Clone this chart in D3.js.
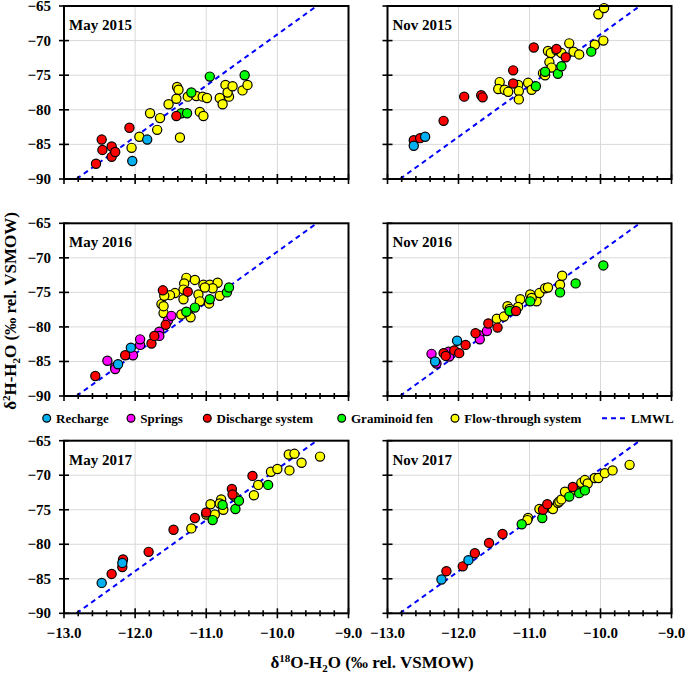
<!DOCTYPE html>
<html><head><meta charset="utf-8">
<script src="https://cdn.jsdelivr.net/npm/d3@7"></script>
<style>body{margin:0;background:#fff}svg{display:block}text{font-family:"Liberation Serif","Times New Roman",serif;font-weight:bold;fill:#000}</style>
</head><body>
<script>
// ---- data (δ18O, δ2H) ----
const panelTitles = ["May 2015","Nov 2015","May 2016","Nov 2016","May 2017","Nov 2017"];
const groupNames = ["Recharge","Springs","Discharge system","Graminoid fen","Flow-through system"];
const groupColors = ["#00b0f0","#ff00ff","#ff0000","#00ff00","#ffff00"];
const xTickLabels = [-13,-12,-11,-10,-9];
const yTickLabels = [-90,-85,-80,-75,-70,-65];
const lmwlSlope = 7.4, lmwlIntercept = 4.9;

const may2015_recharge = [[-12.04,-87.4],[-11.83,-84.3]];
const may2015_springs = [];
const may2015_discharge = [[-12.55,-87.8],[-12.47,-84.3],[-12.46,-85.8],[-12.33,-85.3],[-12.33,-86.8],[-12.28,-86.1],[-12.08,-82.6],[-11.42,-80.9]];
const may2015_fen = [[-11.35,-80.5],[-11.27,-80.5],[-11.21,-77.5],[-10.95,-75.2],[-10.46,-75.0]];
const may2015_flow = [[-12.05,-85.5],[-11.94,-83.9],[-11.79,-80.5],[-11.69,-82.9],[-11.65,-81.2],[-11.53,-79.2],[-11.42,-78.4],[-11.41,-76.7],[-11.39,-77.1],[-11.37,-84.0],[-11.26,-78.1],[-11.14,-78.0],[-11.09,-80.3],[-11.04,-80.9],[-11.05,-78.1],[-10.99,-78.3],[-10.81,-78.3],[-10.77,-79.2],[-10.73,-76.4],[-10.68,-78.1],[-10.70,-77.5],[-10.63,-76.6],[-10.49,-77.2],[-10.42,-76.4]];

const nov2015_recharge = [[-12.63,-85.2],[-12.47,-83.9]];
const nov2015_springs = [];
const nov2015_discharge = [[-12.63,-84.4],[-12.54,-84.1],[-12.21,-81.6],[-11.92,-78.1],[-11.68,-77.9],[-11.66,-78.2],[-11.23,-74.3],[-11.23,-76.2],[-10.94,-71.0],[-10.62,-71.2],[-10.49,-72.4]];
const nov2015_fen = [[-10.91,-76.6],[-10.78,-74.5],[-10.60,-74.8],[-10.55,-73.7],[-10.13,-71.6]];
const nov2015_flow = [[-11.42,-76.0],[-11.44,-77.0],[-11.35,-77.1],[-11.30,-77.4],[-11.16,-76.4],[-11.15,-77.3],[-11.15,-78.5],[-11.02,-76.1],[-10.97,-77.1],[-10.81,-74.7],[-10.78,-75.0],[-10.74,-71.5],[-10.70,-71.8],[-10.72,-73.1],[-10.69,-73.9],[-10.62,-71.4],[-10.55,-71.8],[-10.44,-70.4],[-10.38,-71.6],[-10.30,-72.0],[-10.08,-70.6],[-9.96,-70.0],[-10.03,-66.2],[-9.95,-65.3]];

const may2016_recharge = [[-12.06,-83.0],[-12.24,-85.4]];
const may2016_springs = [[-12.39,-84.9],[-12.28,-85.8],[-12.28,-86.1],[-12.03,-84.1],[-11.93,-82.6],[-11.93,-81.8],[-11.66,-80.7],[-11.66,-81.3],[-11.54,-79.1],[-11.49,-78.4]];
const may2016_discharge = [[-12.56,-87.1],[-12.14,-84.1],[-11.77,-82.4],[-11.73,-81.3],[-11.57,-79.7],[-11.61,-74.7],[-11.26,-74.9]];
const may2016_fen = [[-11.28,-77.8],[-11.16,-77.2],[-10.95,-76.0],[-10.71,-75.0],[-10.68,-74.3]];
const may2016_flow = [[-11.28,-72.9],[-11.16,-73.2],[-11.31,-73.7],[-11.32,-74.6],[-11.44,-75.1],[-11.51,-75.4],[-11.63,-76.7],[-11.60,-78.0],[-11.60,-77.0],[-11.59,-75.5],[-11.32,-76.0],[-11.11,-75.3],[-11.09,-76.3],[-11.04,-73.9],[-10.95,-73.9],[-10.84,-73.6],[-10.81,-75.5],[-11.26,-78.0],[-11.35,-78.2],[-11.22,-78.6],[-10.96,-76.6],[-10.91,-74.4],[-11.02,-74.3]];

const nov2016_recharge = [[-12.33,-85.0],[-12.02,-82.0]];
const nov2016_springs = [[-12.38,-83.9],[-12.31,-85.3],[-12.14,-83.6],[-12.13,-84.3],[-11.71,-81.2],[-11.70,-81.8],[-11.60,-80.6]];
const nov2016_discharge = [[-12.21,-83.8],[-12.18,-84.2],[-12.06,-83.4],[-11.99,-83.8],[-11.90,-82.6],[-11.76,-80.9],[-11.58,-79.5],[-11.45,-80.1],[-11.19,-77.7]];
const nov2016_fen = [[-11.28,-77.7],[-10.99,-76.3],[-10.57,-75.0],[-10.35,-73.7],[-9.96,-71.1]];
const nov2016_flow = [[-11.46,-78.8],[-11.36,-78.5],[-11.31,-77.0],[-11.28,-77.4],[-11.13,-76.0],[-11.16,-77.1],[-10.99,-75.3],[-10.90,-76.3],[-10.86,-75.1],[-10.78,-74.4],[-10.74,-74.3],[-10.57,-73.9],[-10.54,-72.6],[-10.97,-75.8]];

const may2017_recharge = [[-12.47,-85.6],[-12.18,-82.7]];
const may2017_springs = [];
const may2017_discharge = [[-12.33,-84.3],[-12.18,-83.3],[-12.17,-82.2],[-11.81,-81.1],[-11.46,-77.9],[-11.16,-76.2],[-11.00,-75.4],[-10.64,-72.0],[-10.63,-72.8],[-10.35,-70.1]];
const may2017_fen = [[-10.91,-76.5],[-10.77,-74.3],[-10.59,-74.9],[-10.54,-73.7],[-10.13,-71.4]];
const may2017_flow = [[-11.21,-77.7],[-11.00,-75.7],[-10.94,-74.2],[-10.88,-75.7],[-10.79,-73.5],[-10.81,-74.1],[-10.76,-75.0],[-10.60,-73.1],[-10.33,-72.9],[-10.27,-71.4],[-10.09,-69.5],[-10.00,-69.1],[-9.83,-69.3],[-9.84,-67.0],[-9.76,-66.9],[-9.66,-68.2],[-9.40,-67.3]];

const nov2017_recharge = [[-12.24,-85.1],[-11.86,-82.3]];
const nov2017_springs = [];
const nov2017_discharge = [[-12.17,-83.9],[-11.94,-83.2],[-11.77,-81.3],[-11.57,-79.8],[-11.38,-78.5],[-10.81,-75.0],[-10.75,-74.2],[-10.39,-71.7]];
const nov2017_fen = [[-11.11,-77.1],[-10.82,-76.2],[-10.44,-73.1],[-10.30,-72.6],[-10.22,-72.2]];
const nov2017_flow = [[-11.02,-76.2],[-11.03,-76.5],[-10.86,-74.9],[-10.71,-74.7],[-10.67,-74.9],[-10.60,-74.0],[-10.58,-73.8],[-10.55,-73.5],[-10.50,-72.4],[-10.36,-72.1],[-10.27,-71.1],[-10.22,-70.7],[-10.18,-71.2],[-10.08,-70.4],[-10.03,-70.4],[-9.94,-69.7],[-9.83,-69.3],[-9.59,-68.5]];

const panelSeries = [
  [may2015_recharge,may2015_springs,may2015_discharge,may2015_fen,may2015_flow],
  [nov2015_recharge,nov2015_springs,nov2015_discharge,nov2015_fen,nov2015_flow],
  [may2016_recharge,may2016_springs,may2016_discharge,may2016_fen,may2016_flow],
  [nov2016_recharge,nov2016_springs,nov2016_discharge,nov2016_fen,nov2016_flow],
  [may2017_recharge,may2017_springs,may2017_discharge,may2017_fen,may2017_flow],
  [nov2017_recharge,nov2017_springs,nov2017_discharge,nov2017_fen,nov2017_flow]
];

// ---- layout ----
const W = 685, H = 675;
const cols = [[64,348.5],[387.5,671.5]];
const rows = [[6,179],[223.3,396],[440.7,613.3]];
const drawOrder = [4,3,1,2,0];

const svg = d3.select("body").append("svg").attr("width",W).attr("height",H);
const fmtX = d3.format(".1f");
const fmtY = d3.format("d");

panelTitles.forEach((title,i)=>{
  const c = cols[i%2], r = rows[Math.floor(i/2)];
  const x = d3.scaleLinear().domain([-13,-9]).range(c);
  const y = d3.scaleLinear().domain([-90,-65]).range([r[1],r[0]]);
  const g = svg.append("g");
  // gridlines
  g.selectAll(".gx").data(xTickLabels.slice(1,-1)).join("line")
    .attr("x1",d=>x(d)).attr("x2",d=>x(d)).attr("y1",r[0]).attr("y2",r[1])
    .attr("stroke","#d9d9d9").attr("stroke-width",1);
  g.selectAll(".gy").data(yTickLabels.slice(1,-1)).join("line")
    .attr("y1",d=>y(d)).attr("y2",d=>y(d)).attr("x1",c[0]).attr("x2",c[1])
    .attr("stroke","#d9d9d9").attr("stroke-width",1);
  // LMWL
  const lx0 = (-90-lmwlIntercept)/lmwlSlope, lx1 = (-65-lmwlIntercept)/lmwlSlope;
  g.append("line").attr("x1",x(lx0)).attr("y1",y(-90)).attr("x2",x(lx1)).attr("y2",y(-65))
    .attr("stroke","#0000ff").attr("stroke-width",2).attr("stroke-dasharray","5,4");
  // points
  drawOrder.forEach(k=>{
    g.selectAll(null).data(panelSeries[i][k]).join("circle")
      .attr("cx",d=>x(d[0])).attr("cy",d=>y(d[1])).attr("r",4.6)
      .attr("fill",groupColors[k]).attr("stroke","#000").attr("stroke-width",1.2);
  });
  // frame
  g.append("rect").attr("x",c[0]).attr("y",r[0]).attr("width",c[1]-c[0]).attr("height",r[1]-r[0])
    .attr("fill","none").attr("stroke","#000").attr("stroke-width",2);
  // x ticks (crossing)
  const minor = d3.range(0,21).map(j=>-13+j*0.2);
  g.selectAll(".tx").data(minor).join("line")
    .attr("x1",d=>x(d)).attr("x2",d=>x(d))
    .attr("y1",(d,j)=>r[1]-(j%5===0?5:3)).attr("y2",(d,j)=>r[1]+(j%5===0?5:3))
    .attr("stroke","#000").attr("stroke-width",1.6);
  // y ticks
  g.selectAll(".ty").data(yTickLabels).join("line")
    .attr("y1",d=>y(d)).attr("y2",d=>y(d)).attr("x1",c[0]-5).attr("x2",c[0]+5)
    .attr("stroke","#000").attr("stroke-width",1.6);
  // labels
  if (i%2===0){
    g.selectAll(".ly").data(yTickLabels).join("text")
      .attr("x",c[0]-13).attr("y",d=>y(d)+5).attr("text-anchor","end")
      .attr("font-size",15).text(d=>fmtY(d));
  }
  if (i>=4){
    g.selectAll(".lx").data(xTickLabels).join("text")
      .attr("x",d=>x(d)).attr("y",r[1]+25).attr("text-anchor","middle")
      .attr("font-size",15).text(d=>fmtX(d));
  }
  g.append("text").attr("x",c[0]+5).attr("y",r[0]+24).attr("font-size",15).text(title);
});

// legend
const legY = 418.3;
const legMarkerX = [46.7,131,207.3,341.7,455];
groupNames.forEach((n,k)=>{
  svg.append("circle").attr("cx",legMarkerX[k]).attr("cy",legY).attr("r",3.9)
    .attr("fill",groupColors[k]).attr("stroke","#000").attr("stroke-width",1.2);
  svg.append("text").attr("x",legMarkerX[k]+9.3).attr("y",legY+4.5).attr("font-size",13).text(n);
});
svg.append("line").attr("x1",602).attr("x2",629).attr("y1",legY).attr("y2",legY)
  .attr("stroke","#0000ff").attr("stroke-width",2).attr("stroke-dasharray","5,4");
svg.append("text").attr("x",631).attr("y",legY+4.5).attr("font-size",13).text("LMWL");

// axis titles
const xt = svg.append("text").attr("x",372).attr("y",668).attr("text-anchor","middle").attr("font-size",17);
xt.append("tspan").text("δ");
xt.append("tspan").attr("font-size",11).attr("dy",-6).text("18");
xt.append("tspan").attr("dy",6).text("O-H");
xt.append("tspan").attr("font-size",11).attr("dy",4).text("2");
xt.append("tspan").attr("dy",-4).text("O (‰ rel. VSMOW)");

const yt = svg.append("text").attr("transform","translate(16,311) rotate(-90)").attr("text-anchor","middle").attr("font-size",17);
yt.append("tspan").text("δ");
yt.append("tspan").attr("font-size",11).attr("dy",-6).text("2");
yt.append("tspan").attr("dy",6).text("H-H");
yt.append("tspan").attr("font-size",11).attr("dy",4).text("2");
yt.append("tspan").attr("dy",-4).text("O (‰ rel. VSMOW)");
</script>
</body></html>
